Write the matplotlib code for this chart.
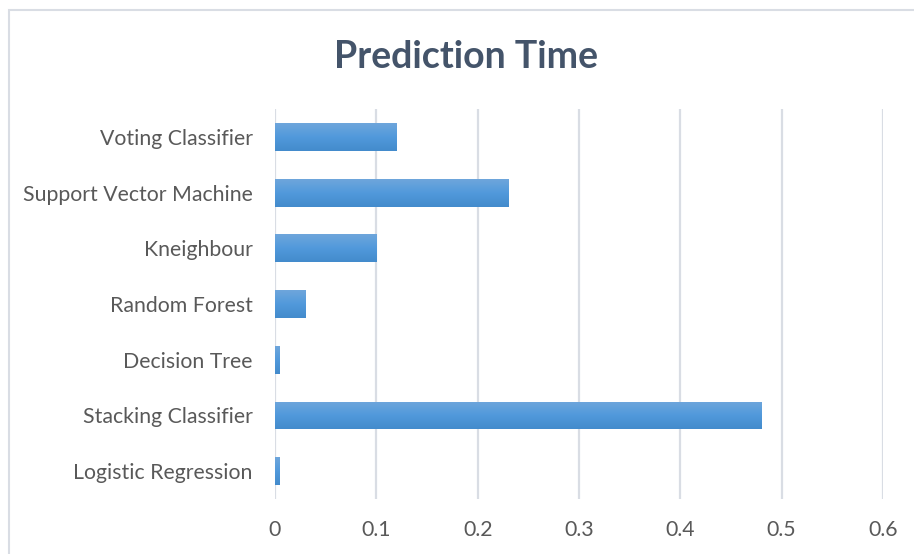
import numpy as np
import matplotlib
matplotlib.use("Agg")
from matplotlib import pyplot as plt
from matplotlib.patches import Rectangle

# data, bottom to top as drawn
models = ["Logistic Regression", "Stacking Classifier", "Decision Tree",
          "Random Forest", "Kneighbour", "Support Vector Machine", "Voting Classifier"]
pred_time = [0.004, 0.48, 0.004, 0.03, 0.1, 0.23, 0.12]
x_ticks = [0, 0.1, 0.2, 0.3, 0.4, 0.5, 0.6]

plt.rcParams['font.family'] = ['Lato', 'DejaVu Sans']

fig = plt.figure(figsize=(9.14, 5.54), dpi=100)
W, H = 914, 554
ax = fig.add_axes([275 / W, 1 - 499 / H, (883 - 275) / W, (499 - 109) / H])

y = np.arange(len(models))
bars = ax.barh(y, pred_time, height=0.5, color="#5B9BD5", edgecolor="none", zorder=2)

# excel-ish vertical gradient on each bar (light on top)
grad = np.linspace(0, 1, 64).reshape(-1, 1)
cmap = matplotlib.colors.LinearSegmentedColormap.from_list("b", ["#6EA6DC", "#5199DB", "#438BCC"])
for b in bars:
    x0, y0 = b.get_x(), b.get_y()
    w, h = b.get_width(), b.get_height()
    im = ax.imshow(grad, extent=[x0, x0 + w, y0, y0 + h], aspect="auto",
                   cmap=cmap, zorder=3, interpolation="bilinear")
    im.set_clip_path(b)

ax.set_xlim(0, 0.6)
ax.set_ylim(-0.5, len(models) - 0.5)
ax.set_xticks(x_ticks)
ax.set_xticklabels([f"{t:g}" for t in x_ticks])
ax.set_yticks(y)
ax.set_yticklabels(models)
ax.grid(axis="x", color="#D9DDE4", linewidth=1.6, zorder=0)
ax.set_axisbelow(True)
for s in ax.spines.values():
    s.set_visible(False)
ax.tick_params(axis="both", length=0, labelsize=15.3, labelcolor="#595959")
ax.tick_params(axis="x", pad=15)
ax.tick_params(axis="y", pad=16)

fig.text((335 + 598) / 2 / W, 1 - 57 / H, "Prediction Time", ha="center", va="center",
         fontsize=27, fontweight="bold", color="#44546A")

# chart area border
fig.patches.append(Rectangle((9 / W, -0.05), 1.1, 1 - 10 / H + 0.05, transform=fig.transFigure,
                             fill=False, edgecolor="#D9DDE4", linewidth=1.5))

fig.savefig("out.png", dpi=100)
